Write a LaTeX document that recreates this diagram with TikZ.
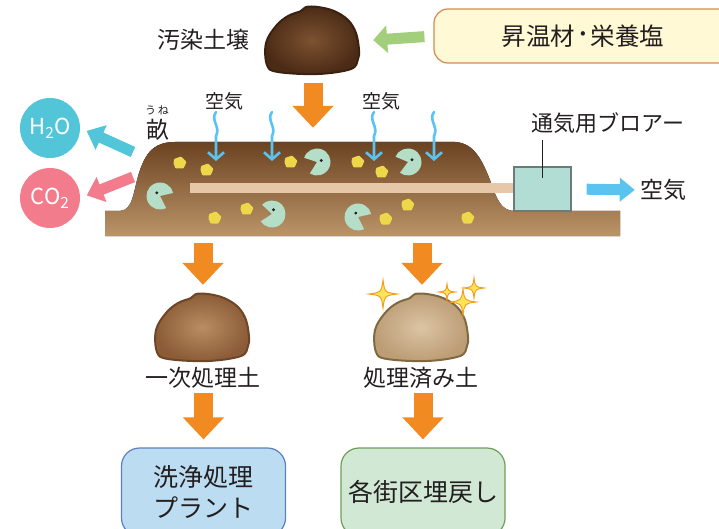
\documentclass[tikz,border=0pt]{standalone}
\usepackage{fontspec}
\setmainfont{Noto Sans CJK JP}
\usetikzlibrary{arrows.meta,positioning}
\definecolor{Ink}{HTML}{231F20}
\definecolor{Carrot}{HTML}{F28A22}
\definecolor{Leaf}{HTML}{A3CF7D}
\definecolor{Sky}{HTML}{5BC3EF}
\definecolor{Teal}{HTML}{52C5D9}
\definecolor{Coral}{HTML}{F37C8C}
\definecolor{Cream}{HTML}{FFF9D6}
\definecolor{Clay}{HTML}{D4884E}
\definecolor{Mint}{HTML}{B4DEC7}
\definecolor{Lemon}{HTML}{EDD84A}
\definecolor{Pipe}{HTML}{E6C7A7}
\definecolor{Blower}{HTML}{B1DDD4}
\definecolor{Steel}{HTML}{6D7B78}
\definecolor{PaleBlue}{HTML}{BCDCF2}
\definecolor{Navy}{HTML}{5D80C0}
\definecolor{PaleGreen}{HTML}{D0E8D4}
\definecolor{Moss}{HTML}{6E9F58}
\definecolor{Spark}{HTML}{FFE45A}
\definecolor{Amber}{HTML}{F2A024}
\definecolor{HeapTop}{HTML}{6C4322}
\definecolor{HeapBottom}{HTML}{BB9468}
\definecolor{RawIn}{HTML}{7D5230}
\definecolor{RawOut}{HTML}{4B2B16}
\definecolor{RawEdge}{HTML}{3A2110}
\definecolor{FirstIn}{HTML}{BA8D63}
\definecolor{FirstOut}{HTML}{8B5C37}
\definecolor{FirstEdge}{HTML}{6E4627}
\definecolor{CleanIn}{HTML}{DCC4A3}
\definecolor{CleanOut}{HTML}{BC9D76}
\definecolor{CleanEdge}{HTML}{80693F}

\begin{document}
\begin{tikzpicture}[
    x=1pt, y=-1pt,
    txt/.style={font=\fontsize{23}{27}\selectfont, text=Ink, inner sep=0pt},
    small/.style={font=\fontsize{19}{22}\selectfont, text=Ink, inner sep=0pt},
    clodbox/.style={minimum width=95pt, minimum height=67pt, inner sep=0pt},
    rawsoil/.style={draw=RawEdge, line width=2pt, inner color=RawIn, outer color=RawOut},
    firstsoil/.style={draw=FirstEdge, line width=2pt, inner color=FirstIn, outer color=FirstOut},
    cleansoil/.style={draw=CleanEdge, line width=2pt, inner color=CleanIn, outer color=CleanOut},
    supply/.style={draw=Clay, line width=1.2pt, fill=Cream, rounded corners=14pt,
      minimum width=298pt, minimum height=54pt, font=\fontsize{24.5}{28}\selectfont, text=Ink},
    gas/.style={circle, minimum size=60pt, inner sep=0pt, text=white,
      font=\fontsize{22}{26}\selectfont},
    dest/.style={rounded corners=18pt, line width=1.2pt, minimum width=164pt,
      minimum height=88pt, align=center, font=\fontsize{25}{31}\selectfont, text=Ink},
    flow/.style={draw=Carrot, line width=19pt, -{Triangle[length=22pt,width=40pt]}},
    feed/.style={draw=Leaf, line width=11pt, -{Triangle[length=14pt,width=27pt]}},
    vent/.style={line width=11pt, -{Triangle[length=16pt,width=26pt]}},
    exhaust/.style={draw=Sky, line width=11pt, -{Triangle[length=15pt,width=23pt]}},
    airflow/.style={draw=Sky, line width=2.6pt, line cap=round,
      -{Straight Barb[length=7pt,width=16pt]}},
    leader/.style={draw=Ink, line width=1.3pt},
    pics/clod/.style={code={
      \draw[#1] plot[smooth cycle, tension=0.6] coordinates {
        (-47,2) (-37,-15) (-25,-25) (-12,-30) (-7,-34) (5,-34) (21,-30)
        (35,-21) (43,-8) (46,9) (45,18) (38,28) (5,33) (-35,31) (-46,24)};
    }},
    pics/pacman/.style 2 args={code={
      \fill[Mint] (0,0) -- (#1+38:13.5) arc[start angle=#1+38, end angle=#1+322, radius=13.5] -- cycle;
      \fill[Ink] (#2:4.5) circle[radius=1.6];
    }},
    pics/pebble/.style={code={
      \fill[Lemon, rounded corners=0.8pt] (-6,-4) -- (1,-6.5) -- (6.5,-1) -- (3.5,5.5) -- (-4.5,5.5) -- (-6.5,0.5) -- cycle;
    }},
    pics/sparkle/.style={code={
      \filldraw[fill=Spark, draw=Amber, line width=1pt]
        (0,-#1) .. controls (0.12*#1,-0.12*#1) .. (#1,0)
        .. controls (0.12*#1,0.12*#1) .. (0,#1)
        .. controls (-0.12*#1,0.12*#1) .. (-#1,0)
        .. controls (-0.12*#1,-0.12*#1) .. cycle;
    }}
  ]
    \clip (0,0) rectangle (719,529);

    \node[clodbox] (soil) at (313,41) {};
    \pic at (soil) {clod=rawsoil};
    \node[txt] (soillbl) at (203,40) {汚染土壌};
    \node[supply] (additive) at (583,36) {昇温材{\fontsize{32}{28}\selectfont\kern-1pt·\kern-1pt}栄養塩};
    \draw[feed, shorten <=9pt, shorten >=12.5pt] (additive.west) -- (soil.east);

    \fill[top color=HeapTop, bottom color=HeapBottom]
      (105,236) -- (105,211) -- (120,211)
      .. controls (134,210) and (133,190) .. (140,170)
      .. controls (147,150) and (156,142) .. (175,142) -- (455,142)
      .. controls (474,143) and (482,160) .. (490,180)
      .. controls (497,200) and (501,211) .. (515,211) -- (620,211) -- (620,236) -- cycle;
    \node[minimum width=515pt, minimum height=94pt, inner sep=0pt] (heap) at (362.5,189) {};
    \fill[Pipe] (190,183) rectangle (514,193);
    \node[draw=Steel, line width=1.2pt, fill=Blower, minimum width=57pt, minimum height=44pt] (blower) at (542.5,189) {};
    \node[txt, font=\fontsize{22}{26}\selectfont] (blowerlbl) at (608,123) {通気用ブロアー};
    \draw[leader, shorten <=6pt, shorten >=11pt] (blower.center |- blowerlbl.south) -- (blower.center);
    \node[txt] (airout) at (663,190) {空気};
    \draw[exhaust, shorten <=15pt, shorten >=5pt] (blower.east) -- (airout.west);

    \draw[flow, shorten <=8.5pt, shorten >=14pt] (soil.south) -- (soil.south |- heap.north);

    \foreach \x/\y in {180/163, 207/170, 291/162, 358/162, 382/172, 408/205, 247/209, 215/218, 386/219, 468/218}
      \pic at (\x,\y) {pebble};
    \pic at (160,196) {pacman={25}{225}};
    \pic at (317,162) {pacman={160}{340}};
    \pic at (408,162) {pacman={165}{330}};
    \pic at (272,214) {pacman={185}{290}};
    \pic at (358,217) {pacman={25}{240}};

    \node[small] (air1) at (224,101) {空気};
    \node[small] (air2) at (381,101) {空気};
    \foreach \x in {216,272,374,434}
      \draw[airflow] (\x,112) .. controls +(-6,8) and +(5,-9) .. (\x,136) -- (\x,161);

    \node[text=Ink, inner sep=0pt, font=\fontsize{11}{12}\selectfont] (ruby) at (157,110) {う\kern2ptね};
    \node[txt] (une) at (158,130) {畝};
    \node[gas, fill=Teal] (h2o) at (50,128) {H\textsubscript{2}O};
    \node[gas, fill=Coral] (co2) at (50,198) {CO\textsubscript{2}};
    \coordinate (vent1) at (133,152);
    \coordinate (vent2) at (133,177);
    \draw[vent, draw=Teal, shorten >=7pt] (vent1) -- (h2o.east);
    \draw[vent, draw=Coral, shorten >=7pt] (vent2) -- (co2.east);

    \node[clodbox] (primary) at (203,328) {};
    \pic at (primary) {clod=firstsoil};
    \node[clodbox] (treated) at (422,328) {};
    \pic at (treated) {clod=cleansoil};
    \draw[flow, shorten <=7pt, shorten >=9.5pt] (primary.north |- heap.south) -- (primary.north);
    \draw[flow, shorten <=7pt, shorten >=9.5pt] (treated.north |- heap.south) -- (treated.north);
    \pic at (383,294) {sparkle=14};
    \pic at (447,292) {sparkle=8};
    \pic at (463,302) {sparkle=13};
    \pic at (474,288) {sparkle=10};

    \node[txt] (primarylbl) at (203,378) {一次処理土};
    \node[txt] (treatedlbl) at (421,378) {処理済み土};

    \node[dest, draw=Navy, fill=PaleBlue] (plant) at (203.5,492) {洗浄処理\\プラント};
    \node[dest, draw=Moss, fill=PaleGreen] (backfill) at (423,492) {各街区埋戻し};
    \draw[flow, shorten <=4pt, shorten >=8pt] (plant.north |- primarylbl.south) -- (plant.north);
    \draw[flow, shorten <=4pt, shorten >=8pt] (backfill.north |- treatedlbl.south) -- (backfill.north);
  \end{tikzpicture}
\end{document}
